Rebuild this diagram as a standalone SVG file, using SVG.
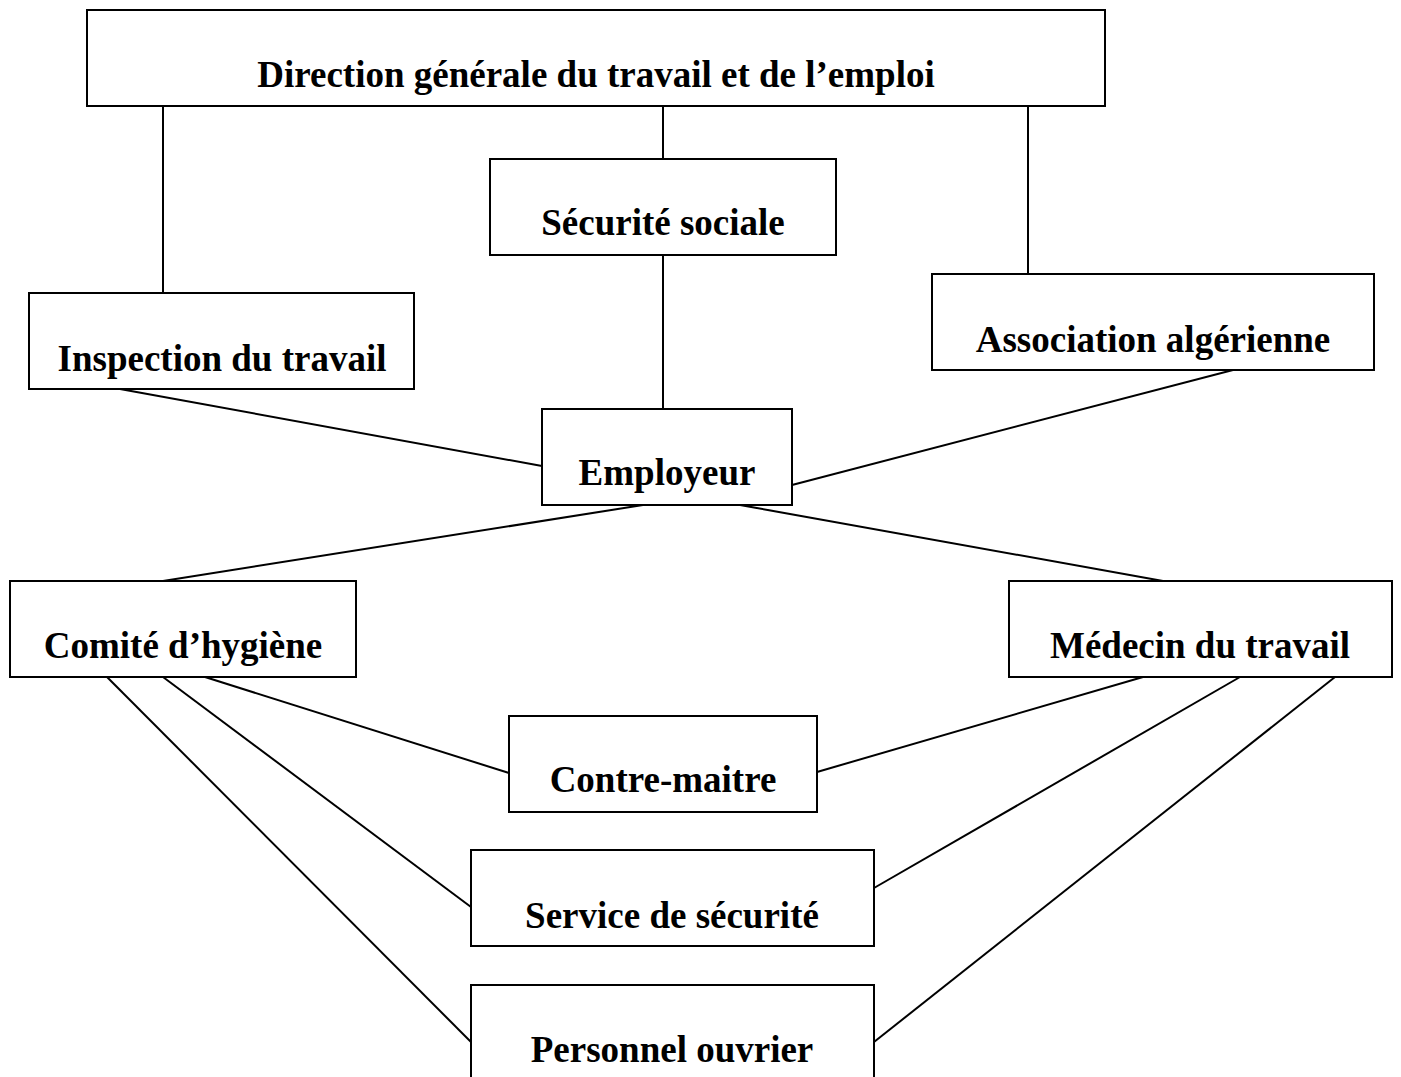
<svg xmlns="http://www.w3.org/2000/svg" width="1401" height="1077" viewBox="0 0 1401 1077">
<style>
.box{fill:#fff;stroke:#000;stroke-width:2}
.lbl{font-family:"Liberation Serif","Times New Roman",serif;font-weight:bold;font-size:37px;text-anchor:middle;fill:#000}
.con line{stroke:#000;stroke-width:2}
</style>
<rect width="1401" height="1077" fill="#fff"/>
<g class="con" id="connectors">
<line x1="163" y1="106" x2="163" y2="293"/>
<line x1="663" y1="106" x2="663" y2="159"/>
<line x1="1028" y1="106" x2="1028" y2="274"/>
<line x1="663" y1="255" x2="663" y2="409"/>
<line x1="120" y1="389" x2="542" y2="466"/>
<line x1="1233" y1="370" x2="792" y2="485"/>
<line x1="643" y1="505" x2="163" y2="581"/>
<line x1="740" y1="505" x2="1163" y2="581"/>
<line x1="205" y1="677" x2="509" y2="773"/>
<line x1="163" y1="677" x2="471" y2="907"/>
<line x1="107" y1="677" x2="471" y2="1042"/>
<line x1="1143" y1="677" x2="817" y2="772"/>
<line x1="1240" y1="677" x2="874" y2="888"/>
<line x1="1335" y1="677" x2="874" y2="1042"/>
</g>
<g id="direction"><rect class="box" x="87" y="10" width="1018" height="96"/><text class="lbl" x="596" y="87">Direction générale du travail et de l’emploi</text></g>
<g id="securite-sociale"><rect class="box" x="490" y="159" width="346" height="96"/><text class="lbl" x="663" y="235">Sécurité sociale</text></g>
<g id="inspection"><rect class="box" x="29" y="293" width="385" height="96"/><text class="lbl" x="222" y="371">Inspection du travail</text></g>
<g id="association"><rect class="box" x="932" y="274" width="442" height="96"/><text class="lbl" x="1153" y="352">Association algérienne</text></g>
<g id="employeur"><rect class="box" x="542" y="409" width="250" height="96"/><text class="lbl" x="667" y="485">Employeur</text></g>
<g id="comite"><rect class="box" x="10" y="581" width="346" height="96"/><text class="lbl" x="183" y="658">Comité d’hygiène</text></g>
<g id="medecin"><rect class="box" x="1009" y="581" width="383" height="96"/><text class="lbl" x="1200" y="658">Médecin du travail</text></g>
<g id="contre-maitre"><rect class="box" x="509" y="716" width="308" height="96"/><text class="lbl" x="663" y="792">Contre-maitre</text></g>
<g id="service-securite"><rect class="box" x="471" y="850" width="403" height="96"/><text class="lbl" x="672" y="928">Service de sécurité</text></g>
<g id="personnel"><rect class="box" x="471" y="985" width="403" height="110"/><text class="lbl" x="672" y="1062">Personnel ouvrier</text></g>
</svg>
